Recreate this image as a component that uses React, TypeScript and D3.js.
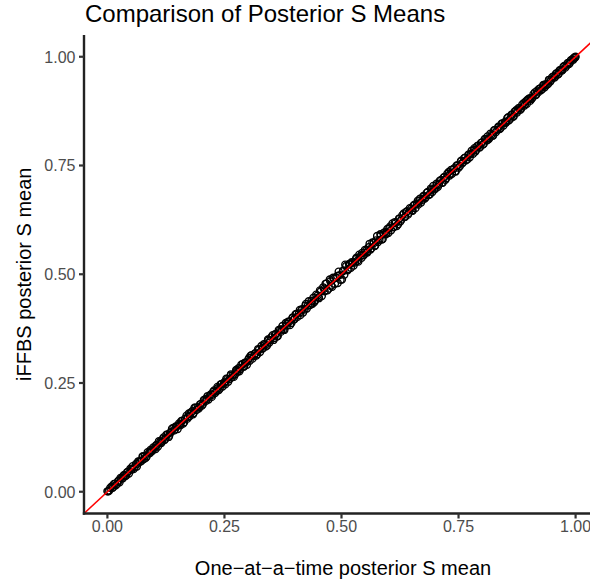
import React from "react";
import * as d3 from "d3";

const chartTitle = "Comparison of Posterior S Means";
const xAxisTitle = "One\u2212at\u2212a\u2212time posterior S mean";
const yAxisTitle = "iFFBS posterior S mean";
const tickValues = [0, 0.25, 0.5, 0.75, 1];

const oneAtATimeA = [
  0.000,0.004,0.009,0.012,0.016,0.021,0.024,0.028,0.033,0.036,
  0.040,0.044,0.049,0.052,0.056,0.061,0.064,0.068,0.073,0.076,
  0.080,0.084,0.089,0.092,0.096,0.101,0.104,0.108,0.113,0.116,
  0.120,0.124,0.129,0.132,0.136,0.141,0.144,0.148,0.153,0.156,
  0.160,0.164,0.169,0.172,0.176,0.181,0.184,0.188,0.193,0.196,
  0.200,0.204,0.209,0.212,0.216,0.221,0.224,0.228,0.233,0.236,
  0.240,0.244,0.249,0.252,0.256,0.261,0.264,0.268,0.273,0.276,
  0.280,0.284,0.289,0.292,0.296,0.301,0.304,0.308,0.313,0.316,
  0.320,0.324,0.329,0.332,0.336,0.341,0.344,0.348,0.353,0.356,
  0.360,0.364,0.369,0.372,0.376,0.381,0.384,0.388,0.393,0.396,
  0.400,0.404,0.409,0.412,0.416,0.421,0.424,0.428,0.433,0.436,
  0.440,0.444,0.449,0.452,0.456,0.461,0.464,0.468,0.473,0.476,
  0.480,0.484,0.489,0.492,0.496,0.501,0.504,0.508,0.513,0.516,
  0.520,0.524,0.529,0.532,0.536,0.541,0.544,0.548,0.553,0.556,
  0.560,0.564,0.569,0.572,0.576,0.581,0.584,0.588,0.593,0.596,
  0.600,0.604,0.609,0.612,0.616,0.621,0.624,0.628,0.633,0.636,
  0.640,0.644,0.649,0.652,0.656,0.661,0.664,0.668,0.673,0.676,
  0.680,0.684,0.689,0.692,0.696,0.701,0.704,0.708,0.713,0.716,
  0.720,0.724,0.729,0.732,0.736,0.741,0.744,0.748,0.753,0.756,
  0.760,0.764,0.769,0.772,0.776,0.781,0.784,0.788,0.793,0.796,
  0.800,0.804,0.809,0.812,0.816,0.821,0.824,0.828,0.833,0.836,
  0.840,0.844,0.849,0.852,0.856,0.861,0.864,0.868,0.873,0.876,
  0.880,0.884,0.889,0.892,0.896,0.901,0.904,0.908,0.913,0.916,
  0.920,0.924,0.929,0.932,0.936,0.941,0.944,0.948,0.953,0.956,
  0.960,0.964,0.969,0.972,0.976,0.981,0.984,0.988,0.993,0.996,
  0.999,1.000
];

const iffbsA = [
  0.001,0.003,0.012,0.010,0.018,0.018,0.025,0.032,0.031,0.038,
  0.037,0.046,0.053,0.051,0.052,0.064,0.064,0.070,0.071,0.081,
  0.082,0.081,0.090,0.096,0.094,0.101,0.107,0.104,0.115,0.115,
  0.125,0.122,0.132,0.129,0.137,0.147,0.143,0.150,0.157,0.153,
  0.163,0.160,0.175,0.172,0.174,0.185,0.181,0.193,0.194,0.194,
  0.202,0.201,0.213,0.213,0.212,0.224,0.223,0.233,0.231,0.238,
  0.237,0.248,0.250,0.247,0.259,0.259,0.270,0.268,0.270,0.278,
  0.284,0.282,0.294,0.288,0.297,0.304,0.301,0.314,0.312,0.318,
  0.316,0.327,0.335,0.330,0.337,0.336,0.348,0.348,0.360,0.353,
  0.362,0.358,0.373,0.373,0.373,0.388,0.382,0.391,0.388,0.401,
  0.397,0.409,0.410,0.406,0.420,0.419,0.432,0.428,0.429,0.439,
  0.446,0.440,0.451,0.445,0.461,0.470,0.461,0.479,0.467,0.484,
  0.471,0.490,0.492,0.480,0.498,0.488,0.509,0.522,0.509,0.523,
  0.515,0.527,0.527,0.538,0.529,0.542,0.549,0.544,0.555,0.553,
  0.570,0.560,0.572,0.566,0.588,0.579,0.589,0.581,0.597,0.596,
  0.595,0.610,0.617,0.609,0.618,0.615,0.628,0.626,0.640,0.632,
  0.645,0.641,0.651,0.646,0.660,0.662,0.660,0.674,0.671,0.679,
  0.677,0.689,0.684,0.694,0.703,0.697,0.705,0.706,0.717,0.710,
  0.724,0.721,0.735,0.731,0.731,0.744,0.736,0.750,0.749,0.761,
  0.758,0.768,0.764,0.775,0.777,0.777,0.790,0.786,0.796,0.793,
  0.803,0.800,0.811,0.817,0.813,0.821,0.819,0.832,0.832,0.838,
  0.836,0.847,0.850,0.850,0.861,0.858,0.866,0.863,0.877,0.876,
  0.882,0.881,0.893,0.891,0.892,0.904,0.905,0.906,0.918,0.913,
  0.918,0.927,0.926,0.934,0.937,0.937,0.947,0.947,0.955,0.954,
  0.962,0.961,0.970,0.970,0.979,0.980,0.986,0.986,0.994,0.997,
  0.998,1.000
];

const oneAtATimeB = [
  0.002,0.006,0.011,0.014,0.018,0.023,0.026,0.030,0.035,0.038,
  0.042,0.046,0.051,0.054,0.058,0.063,0.066,0.070,0.075,0.078,
  0.082,0.086,0.091,0.094,0.098,0.103,0.106,0.110,0.115,0.118,
  0.122,0.126,0.131,0.134,0.138,0.143,0.146,0.150,0.155,0.158,
  0.162,0.166,0.171,0.174,0.178,0.183,0.186,0.190,0.195,0.198,
  0.202,0.206,0.211,0.214,0.218,0.223,0.226,0.230,0.235,0.238,
  0.242,0.246,0.251,0.254,0.258,0.263,0.266,0.270,0.275,0.278,
  0.282,0.286,0.291,0.294,0.298,0.303,0.306,0.310,0.315,0.318,
  0.322,0.326,0.331,0.334,0.338,0.343,0.346,0.350,0.355,0.358,
  0.362,0.366,0.371,0.374,0.378,0.383,0.386,0.390,0.395,0.398,
  0.402,0.406,0.411,0.414,0.418,0.423,0.426,0.430,0.435,0.438,
  0.442,0.446,0.451,0.454,0.458,0.463,0.466,0.470,0.475,0.478,
  0.482,0.486,0.491,0.494,0.498,0.503,0.506,0.510,0.515,0.518,
  0.522,0.526,0.531,0.534,0.538,0.543,0.546,0.550,0.555,0.558,
  0.562,0.566,0.571,0.574,0.578,0.583,0.586,0.590,0.595,0.598,
  0.602,0.606,0.611,0.614,0.618,0.623,0.626,0.630,0.635,0.638,
  0.642,0.646,0.651,0.654,0.658,0.663,0.666,0.670,0.675,0.678,
  0.682,0.686,0.691,0.694,0.698,0.703,0.706,0.710,0.715,0.718,
  0.722,0.726,0.731,0.734,0.738,0.743,0.746,0.750,0.755,0.758,
  0.762,0.766,0.771,0.774,0.778,0.783,0.786,0.790,0.795,0.798,
  0.802,0.806,0.811,0.814,0.818,0.823,0.826,0.830,0.835,0.838,
  0.842,0.846,0.851,0.854,0.858,0.863,0.866,0.870,0.875,0.878,
  0.882,0.886,0.891,0.894,0.898,0.903,0.906,0.910,0.915,0.918,
  0.922,0.926,0.931,0.934,0.938,0.943,0.946,0.950,0.955,0.958,
  0.962,0.966,0.971,0.974,0.978,0.983,0.986,0.990,0.995,0.998
];

const iffbsB = [
  0.001,0.009,0.009,0.018,0.015,0.025,0.022,0.031,0.038,0.036,
  0.045,0.042,0.052,0.059,0.056,0.058,0.070,0.069,0.081,0.075,
  0.078,0.091,0.089,0.093,0.102,0.098,0.108,0.116,0.112,0.121,
  0.119,0.131,0.126,0.136,0.145,0.141,0.150,0.144,0.155,0.163,
  0.157,0.168,0.168,0.180,0.182,0.178,0.193,0.188,0.191,0.201,
  0.198,0.211,0.209,0.220,0.220,0.218,0.230,0.227,0.241,0.234,
  0.247,0.242,0.253,0.260,0.253,0.267,0.263,0.264,0.280,0.276,
  0.277,0.292,0.288,0.297,0.292,0.308,0.313,0.306,0.318,0.313,
  0.328,0.321,0.329,0.339,0.334,0.350,0.343,0.355,0.349,0.362,
  0.357,0.372,0.368,0.381,0.372,0.386,0.391,0.383,0.399,0.396,
  0.408,0.402,0.418,0.417,0.412,0.428,0.421,0.438,0.433,0.432,
  0.436,0.453,0.447,0.463,0.450,0.467,0.478,0.463,0.488,0.474,
  0.492,0.478,0.496,0.506,0.487,0.507,0.499,0.519,0.512,0.524,
  0.528,0.520,0.535,0.531,0.545,0.538,0.544,0.556,0.550,0.562,
  0.557,0.573,0.565,0.578,0.574,0.592,0.580,0.595,0.592,0.604,
  0.606,0.601,0.608,0.620,0.611,0.628,0.622,0.636,0.632,0.643,
  0.637,0.652,0.647,0.658,0.652,0.669,0.669,0.665,0.680,0.674,
  0.687,0.682,0.697,0.689,0.695,0.708,0.701,0.715,0.711,0.722,
  0.717,0.731,0.727,0.740,0.741,0.737,0.750,0.745,0.760,0.755,
  0.767,0.762,0.775,0.769,0.784,0.786,0.782,0.795,0.791,0.802,
  0.798,0.811,0.808,0.810,0.823,0.819,0.831,0.827,0.839,0.834,
  0.846,0.842,0.848,0.859,0.854,0.867,0.862,0.874,0.872,0.882,
  0.878,0.890,0.888,0.898,0.902,0.899,0.903,0.914,0.912,0.922,
  0.926,0.923,0.935,0.930,0.935,0.947,0.943,0.953,0.952,0.961,
  0.959,0.969,0.968,0.977,0.975,0.985,0.983,0.992,0.993,0.999
];

const W = 590;
const H = 582;
const panel = { left: 84, top: 35, right: 599, bottom: 513.5 };
const FONT = "'Liberation Sans', Arial, Helvetica, sans-serif";

export default function App() {
  const x = d3.scaleLinear().domain([-0.05, 1.05]).range([panel.left, panel.right]);
  const y = d3.scaleLinear().domain([-0.05, 1.05]).range([panel.bottom, panel.top]);
  const fmt = d3.format(".2f");
  const pts: [number, number][] = [
    ...oneAtATimeA.map((v, i) => [v, iffbsA[i]] as [number, number]),
    ...oneAtATimeB.map((v, i) => [v, iffbsB[i]] as [number, number]),
  ];
  const abline = d3.line<number>().x((v) => x(v)).y((v) => y(v));
  const tickLen = 5;

  return (
    <svg
      width={W}
      height={H}
      style={{ position: "fixed", left: 0, top: 0, background: "#fff" }}
      fontFamily={FONT}
    >
      <defs>
        <clipPath id="panelClip">
          <rect x={panel.left} y={panel.top} width={panel.right - panel.left} height={panel.bottom - panel.top} />
        </clipPath>
      </defs>
      <rect x={0} y={0} width={W} height={H} fill="#fff" />
      <g clipPath="url(#panelClip)">
        {pts.map((p, i) => (
          <circle key={i} cx={x(p[0])} cy={y(p[1])} r={3.5} fill="none" stroke="#000" strokeWidth={1.35} />
        ))}
        <path d={abline([-0.1, 1.2]) || ""} stroke="#ff0000" strokeWidth={1.5} fill="none" />
      </g>
      <line x1={panel.left} x2={panel.left} y1={panel.top} y2={panel.bottom + 1.2} stroke="#222" strokeWidth={2.4} />
      <line x1={panel.left - 1.2} x2={W} y1={panel.bottom} y2={panel.bottom} stroke="#222" strokeWidth={2.4} />
      {tickValues.map((t) => (
        <g key={"yt" + t}>
          <line x1={panel.left - tickLen} x2={panel.left} y1={y(t)} y2={y(t)} stroke="#333" strokeWidth={2.2} />
          <text x={panel.left - tickLen - 3.5} y={y(t)} dy="0.36em" textAnchor="end" fontSize={16} fill="#4d4d4d">
            {fmt(t)}
          </text>
        </g>
      ))}
      {tickValues.map((t) => (
        <g key={"xt" + t}>
          <line x1={x(t)} x2={x(t)} y1={panel.bottom} y2={panel.bottom + tickLen} stroke="#333" strokeWidth={2.2} />
          <text x={x(t)} y={532} textAnchor="middle" fontSize={16} fill="#4d4d4d">
            {fmt(t)}
          </text>
        </g>
      ))}
      <text x={343} y={575} textAnchor="middle" fontSize={20} fill="#000">
        {xAxisTitle}
      </text>
      <text
        transform={`translate(31, ${(panel.top + panel.bottom) / 2}) rotate(-90)`}
        textAnchor="middle"
        fontSize={20}
        fill="#000"
      >
        {yAxisTitle}
      </text>
      <text x={85} y={22} fontSize={24} fill="#000">
        {chartTitle}
      </text>
    </svg>
  );
}
